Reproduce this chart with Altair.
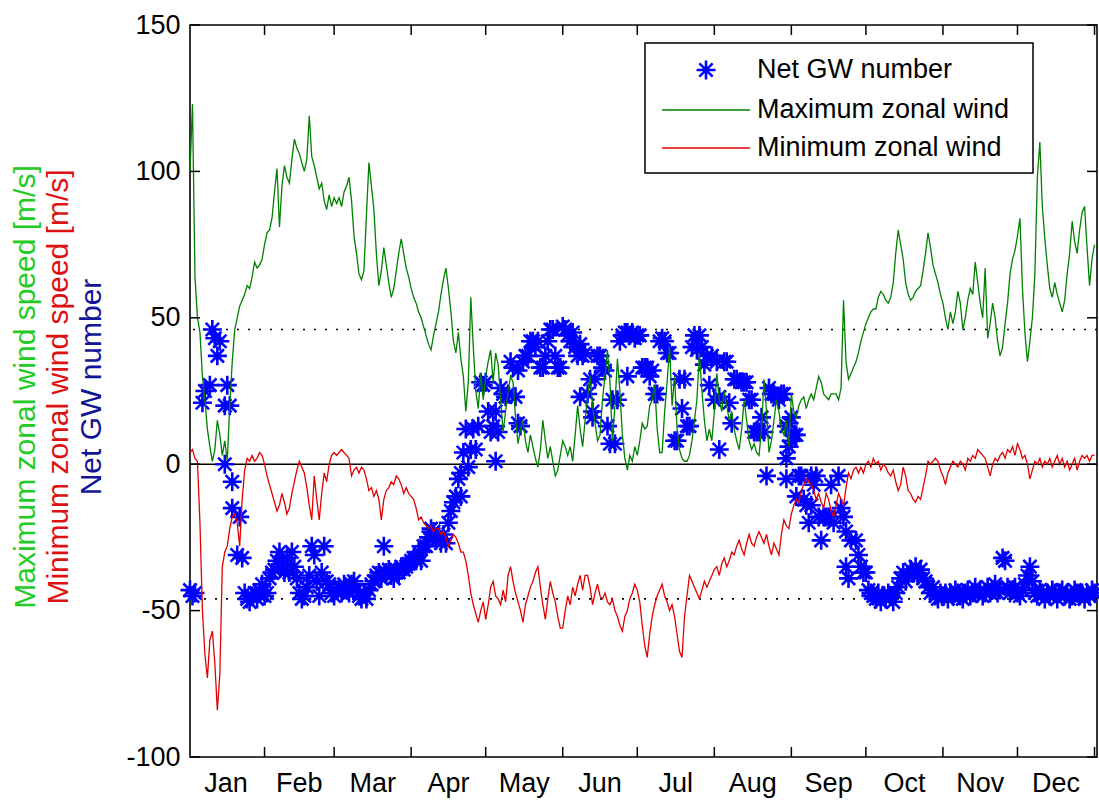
import altair as alt
import pandas as pd

# ---------------------------------------------------------------- data
# daily maximum zonal wind [m/s]; one value per day, record starts on 2 Jan
max_wind = [
    100, 123, 64, 50, 45, 30, 22, 12, 6, 1,
    5, 15, 10, 3, 8, 1, 20, 35, 46, 50,
    54, 56, 58, 61, 60, 64, 69, 67, 68, 70,
    75, 79, 80, 84, 93, 101, 81, 95, 102, 98,
    96, 104, 111, 108, 106, 103, 100, 104, 119, 105,
    102, 98, 94, 96, 90, 87, 92, 88, 91, 89,
    91, 88, 93, 95, 98, 90, 78, 72, 65, 63,
    66, 85, 103, 95, 87, 72, 61, 66, 74, 68,
    62, 57, 60, 66, 72, 77, 72, 67, 64, 60,
    57, 55, 52, 50, 47, 44, 41, 39, 44, 48,
    52, 58, 63, 67, 60, 52, 42, 38, 45, 36,
    30, 18, 28, 57, 40, 25, 19, 31, 22, 30,
    35, 39, 28, 38, 34, 22, 11, 18, 25, 30,
    28, 16, 7, 12, 15, 8, 4, 10, 6, 2,
    -1, 5, 15, 8, 2, 6, 1, -4, -2, 3,
    8, 6, 3, 6, 1, 10, 20, 12, 6, 15,
    23, 30, 20, 14, 8, 10, 22, 30, 39, 28,
    8, 20, 36, 25, 10, 2, -2, 3, 1, 6,
    3, 8, 14, 12, 13, 20, 22, 27, 12, 4,
    4, 18, 28, 40, 20, 30, 12, 5, 2, 1,
    1, 3, 8, 15, 22, 38, 25, 15, 8, 12,
    8, 18, 31, 22, 18, 25, 20, 15, 18, 12,
    8, 5, 12, 22, 15, 8, 5, 7, 4, 3,
    12, 29, 18, 4, 8, 15, 22, 18, 12, 10,
    15, 6, 24, 18, 16, 20, 22, 23, 19, 22,
    24, 22, 26, 30, 28, 24, 23, 22, 24, 24,
    24, 22, 26, 56, 35, 29, 31, 33, 35, 38,
    42, 45, 48, 50, 52, 53, 53, 57, 59, 58,
    56, 55, 57, 62, 72, 80, 75, 70, 62, 58,
    56, 57, 59, 60, 61, 66, 72, 79, 74, 68,
    65, 62, 58, 55, 50, 46, 52, 48, 52, 59,
    55, 46, 50, 56, 60, 58, 69, 62, 55, 50,
    67, 43, 48, 55, 50, 42, 37, 40, 48, 55,
    65, 70, 73, 78, 84, 60, 45, 35, 42, 50,
    65, 98, 110, 88, 77, 68, 60, 57, 62, 58,
    55, 52, 56, 65, 72, 83, 76, 72, 80, 86,
    88, 74, 61, 70, 75,
]

# daily minimum zonal wind [m/s], same days
min_wind = [
    4, 5, 2, 1, -20, -50, -65, -73, -60, -57,
    -68, -84, -72, -35, -30, -28, -22, -18, -17, -20,
    -28, -12, -2, 2, 1, 3, 1, 2, 4, 3,
    0, -4, -7, -10, -13, -16, -14, -10, -13, -17,
    -15, -10, -6, -2, 1, -1, -3, -8, -14, -19,
    -4, -12, -19, -10, -3, -6, 0, 3, 4, 3,
    4, 5, 4, 3, 2, -4, -2, -1, -3, -1,
    -2, -5, -9, -8, -11, -9, -12, -19, -12, -9,
    -8, -6, -7, -4, -5, -7, -10, -8, -10, -11,
    -12, -15, -19, -18, -20, -21, -22, -21, -23, -22,
    -22, -24, -23, -25, -28, -26, -24, -25, -27, -30,
    -30, -33, -38, -44, -48, -51, -54, -50, -47, -53,
    -48, -42, -40, -45, -46, -48, -43, -47, -38, -35,
    -40, -44, -47, -50, -54, -48, -45, -42, -40, -37,
    -35, -42, -48, -53, -46, -40, -44, -47, -52, -56,
    -56, -50, -45, -48, -42, -45, -41, -38, -43, -38,
    -38, -42, -48, -44, -41, -45, -46, -44, -47, -48,
    -46, -50, -52, -55, -57, -52, -50, -46, -44, -41,
    -43, -47, -55, -62, -66, -58, -52, -48, -45, -43,
    -41, -45, -47, -50, -48, -52, -58, -64, -66, -52,
    -45, -38, -40, -42, -44, -46, -43, -40, -42, -40,
    -38, -36, -35, -38, -34, -32, -35, -33, -30, -31,
    -28, -26, -29, -31, -27, -24, -27, -28, -25, -23,
    -25, -27, -24, -28, -31, -27, -29, -31, -24, -19,
    -21, -22, -17, -14, -12, -13, -9, -7, -5, -6,
    -7, -9, -12, -10, -13, -15, -10, -12, -16, -18,
    -14, -10, -12, -14, -8, -3, -5, -2, -1, -3,
    -1, -3, 0, 1, -1, 2, 0, 1, -2, 0,
    -1, -3, -4, -2, -6, -9, -7, -1, -4, -9,
    -10, -12, -13, -11, -12, -8, -4, 1, 0, 1,
    2, 1, -2, -4, -7, -3, -1, 1, 0, -1,
    1, 0, -2, 2, 1, 3, 2, 5, 4, 3,
    2, -1, -4, 0, 2, 1, 3, 4, 2, 5,
    4, 6, 3, 7, 5, 2, 3, 0, -5, -2,
    1, 0, 2, -1, 1, 0, 2, -1, 1, 3,
    0, 2, -1, 1, -2, 0, 2, -2, 1, 3,
    2, 3, 1, 3, 3,
]

# net gravity-wave number: record day (1 = first day of the record) and value
gw_day = [
    1, 2, 3, 6, 7, 9, 10, 11, 12, 13, 15, 15, 16, 17, 18, 18, 20, 21, 22,
    23, 24, 25, 26, 27, 28, 29, 30,
    31, 32, 33, 34, 35, 36, 37, 38, 39, 40, 41, 42, 43, 44, 45, 46, 47, 48,
    49, 50, 51, 52, 53, 54, 55, 56, 57, 58, 59, 60, 61, 62, 63, 64, 65, 66,
    67, 68, 69, 70, 71, 72, 73, 74, 75, 76, 77, 78, 79, 80, 81, 82, 83, 84,
    85, 86, 87, 88, 89, 90, 91, 92, 93, 94, 95, 96, 97, 98, 99, 100, 101,
    102, 103, 104, 105, 106, 107, 108,
    109, 110, 110, 111, 112, 113, 114, 115, 116, 117, 118, 119, 120, 121,
    122, 123, 124, 124, 125, 126, 127, 128, 129, 130, 131, 132, 133, 133,
    134, 135, 136, 137, 138, 139, 140, 141, 142, 143, 144, 145, 146, 147,
    148, 149, 150, 151, 152, 153, 154, 155, 156, 157, 158, 158, 159, 160,
    161, 162, 163, 163, 164, 165, 166, 167, 168, 169, 170, 171, 172, 173,
    174, 175, 176, 177, 177, 178, 179, 180, 181, 182, 183, 184, 185, 186,
    187, 188, 189, 190, 191, 192, 193, 194, 196, 197, 198, 199, 200, 201,
    202, 203, 204, 205, 206, 207, 208, 209, 210, 211, 212, 213, 214, 214,
    216, 217, 218, 219, 220, 221, 223, 224, 225, 226, 227, 228, 229, 230,
    231, 232, 233, 234, 235, 236, 238, 239, 240, 241, 241, 241, 242, 242,
    243, 243, 244, 245, 245, 246, 247, 248, 249, 250, 251, 251, 252, 253,
    254, 255, 256, 257, 258, 259, 260, 262, 263, 264, 265, 265, 266, 267,
    269, 270, 271, 272, 273, 274, 275,
    276, 277, 278, 279, 280, 281, 282, 283, 284, 285, 286, 287, 288, 289,
    290, 291, 292, 293, 294, 295, 296, 297, 298, 299, 300, 301, 302, 303,
    304, 305, 306, 307, 308, 309, 310, 311, 312, 313, 314, 315, 316, 317,
    318, 319, 320, 321, 322, 323, 324, 325, 326, 327, 328, 329, 330, 331,
    332, 333, 334, 335, 336, 337, 338, 339, 340, 341, 342, 343, 344, 345,
    346, 347, 348, 349, 350, 351, 352, 353, 354, 355, 356, 357, 358, 359,
    360, 361, 362, 363, 364, 365,
]
gw_val = [
    -43, -45, -44, 21, 25, 27, 46, 43, 37, 42, 20, 0, 27, 20, -6, -15, -31, -18, -32,
    -44, -46, -47, -45, -44, -46, -43, -41,
    -45, -44, -39, -37, -36, -33, -30, -34, -37, -32, -37, -30, -35, -39, -44, -46, -45, -42,
    -38, -28, -31, -40, -45, -37, -28, -40, -41, -44, -45, -43, -42, -44, -41, -43, -44, -41,
    -40, -43, -45, -46, -44, -46, -43, -41, -40, -38, -37, -39, -28, -37, -36, -38, -39, -36,
    -37, -35, -36, -35, -34, -33, -32, -33, -30, -33, -28, -28, -25, -22, -23, -26, -25,
    -27, -24, -27, -20, -16, -13, -11,
    -5, -3, -11, 4, 12, -1, 5, 12, 5, 13, 28, 27, 28, 18,
    11, 13, 1, 18, 11, 26, 24, 23, 24, 35, 33, 23, 14, 32,
    13, 35, 37, 37, 42, 42, 40, 42, 33, 33, 37, 42, 46, 46,
    37, 33, 33, 47, 46, 44, 42, 45, 40, 37, 41, 23, 37, 38,
    24, 29, 18, 16, 29, 37, 37, 33, 32, 13, 7, 22, 7, 22,
    42, 44, 45, 30, 45, 44, 45, 43, 44, 44, 33, 33, 33, 30,
    32, 24, 24, 42, 43, 42, 38, 38, 8, 8, 29, 19, 29, 13,
    13, 40, 44, 39, 44, 40, 34, 37, 27, 37, 22, 35, 23, 5,
    35, 35, 21, 14, 29, 29, 28, 28, 28, 22, 22, 11, 11, 11,
    16, 11, -4, 26, 24, 24, 22, 24, 24, 13, 2, -5, 6, 14,
    16, 8, 10, 10, -11, -4, -4, -12, -14, -20, -14, -4, -7, -4,
    -18, -26, -18, -18, -18, -7, -20, -4, -15, -18, -23, -35, -39, -26,
    -26, -31, -35, -37, -37, -43, -44,
    -45, -46, -44, -47, -45, -46, -44, -45, -47, -44, -42, -39, -37, -40,
    -38, -36, -37, -35, -38, -36, -39, -40, -42, -44, -42, -45, -46, -44,
    -45, -44, -46, -44, -45, -43, -44, -45, -46, -44, -43, -45, -44, -42,
    -44, -43, -45, -44, -42, -44, -43, -41, -44, -43, -32, -33, -42, -44,
    -43, -42, -44, -45, -43, -41, -38, -35, -40, -44, -45, -43, -44, -46,
    -44, -45, -43, -44, -46, -44, -43, -45, -44, -46, -45, -43, -44, -45,
    -44, -46, -44, -45, -43, -44,
]

months = ["Jan", "Feb", "Mar", "Apr", "May", "Jun",
          "Jul", "Aug", "Sep", "Oct", "Nov", "Dec"]
month_starts = [1, 32, 60, 91, 121, 152, 182, 213, 244, 274, 305, 335, 366]
y_ticks = [-100, -50, 0, 50, 100, 150]
ref_levels = [46, -46]
FIRST_DAY = 2  # day of year of the first record

# ---------------------------------------------------------------- frames
n_days = len(max_wind)
DOMAIN = [FIRST_DAY, FIRST_DAY + n_days]
doy = [FIRST_DAY + i for i in range(n_days)]
wind_df = pd.DataFrame({"day": doy, "max": max_wind, "min": min_wind})
gw_df = pd.DataFrame({"day": [FIRST_DAY - 1 + d for d in gw_day], "gw": gw_val})
label_df = pd.DataFrame({
    "mid": [(a + b) / 2 for a, b in zip(month_starts[:-1], month_starts[1:])],
    "month": months,
})
mtick_df = pd.DataFrame({"day": [d for d in month_starts
                                 if DOMAIN[0] <= d <= DOMAIN[1]]})
ytick_df = pd.DataFrame({"v": y_ticks})
ref_df = pd.DataFrame({"v": ref_levels})
one = pd.DataFrame({"k": [0]})

W, H = 907, 732
FONT = "Liberation Sans"
FS = 27
TITLE_FS = 30
GREEN_LINE = "#008000"
RED_LINE = "#e00000"
BLUE = "#0000ff"
STAR = ("M-1,0L1,0M0,-1L0,1M-0.7,-0.7L0.7,0.7M-0.7,0.7L0.7,-0.7")
STAR_SIZE = 360
STAR_W = 2.6

xs = alt.Scale(domain=DOMAIN, nice=False, zero=False)
ys = alt.Scale(domain=[-100, 150], nice=False, zero=False)
y_axis = alt.Axis(values=y_ticks, ticks=False, domain=False, grid=False,
                  labelExpr="'' + datum.value",
                  labelFont=FONT, labelFontSize=FS, labelColor="black",
                  labelPadding=10, title=None)


def X(field):
    return alt.X(field, scale=xs, axis=None)


def Y(field):
    return alt.Y(field, scale=ys, axis=y_axis)


# reference levels and zero line
dotted = alt.Chart(ref_df).mark_rule(color="black", strokeWidth=1.6,
                                     strokeDash=[2, 9]).encode(y=Y("v:Q"))
zero = alt.Chart(one).mark_rule(color="black", strokeWidth=1.6).encode(
    y=alt.datum(0, scale=ys))

# inward tick marks on all four sides
ticks_bottom = alt.Chart(mtick_df).mark_rule(color="black", strokeWidth=1.5).encode(
    x=X("day:Q"), y=alt.value(H - 10), y2=alt.value(H))
ticks_top = alt.Chart(mtick_df).mark_rule(color="black", strokeWidth=1.5).encode(
    x=X("day:Q"), y=alt.value(0), y2=alt.value(10))
ticks_left = alt.Chart(ytick_df).mark_rule(color="black", strokeWidth=1.5).encode(
    y=Y("v:Q"), x=alt.value(0), x2=alt.value(10))
ticks_right = alt.Chart(ytick_df).mark_rule(color="black", strokeWidth=1.5).encode(
    y=Y("v:Q"), x=alt.value(W - 10), x2=alt.value(W))

month_labels = alt.Chart(label_df).mark_text(
    font=FONT, fontSize=FS, color="black", baseline="middle", align="center"
).encode(x=X("mid:Q"), y=alt.value(H + 27), text="month:N")

stars = alt.Chart(gw_df).mark_point(
    shape=STAR, filled=False, size=STAR_SIZE, strokeWidth=STAR_W, color=BLUE, opacity=1
).encode(x=X("day:Q"), y=Y("gw:Q"))

max_line = alt.Chart(wind_df).mark_line(color=GREEN_LINE, strokeWidth=1.3).encode(
    x=X("day:Q"), y=Y("max:Q"))
min_line = alt.Chart(wind_df).mark_line(color=RED_LINE, strokeWidth=1.3).encode(
    x=X("day:Q"), y=Y("min:Q"))

# legend box
LX0, LX1, LY0, LY1 = 455, 843, 18, 148
leg_box = alt.Chart(one).mark_rect(fill="white", stroke="black", strokeWidth=1.5).encode(
    x=alt.value(LX0), x2=alt.value(LX1), y=alt.value(LY0), y2=alt.value(LY1))
leg_star = alt.Chart(one).mark_point(
    shape=STAR, filled=False, size=STAR_SIZE, strokeWidth=STAR_W, color=BLUE, opacity=1
).encode(x=alt.value(516), y=alt.value(45))
leg_green = alt.Chart(one).mark_rule(color=GREEN_LINE, strokeWidth=1.5).encode(
    x=alt.value(472), x2=alt.value(560), y=alt.value(85))
leg_red = alt.Chart(one).mark_rule(color=RED_LINE, strokeWidth=1.5).encode(
    x=alt.value(472), x2=alt.value(560), y=alt.value(123))


def leg_text(txt, ypos):
    return alt.Chart(one).mark_text(
        font=FONT, fontSize=FS, color="black", align="left", baseline="middle"
    ).encode(x=alt.value(567), y=alt.value(ypos), text=alt.value(txt))


# stacked, colour-coded y titles
def y_title(txt, xpos, colour):
    return alt.Chart(one).mark_text(
        font=FONT, fontSize=TITLE_FS, color=colour, angle=270,
        align="center", baseline="middle"
    ).encode(x=alt.value(xpos), y=alt.value(362), text=alt.value(txt))


chart = alt.layer(
    dotted, zero, stars, max_line, min_line,
    ticks_bottom, ticks_top, ticks_left, ticks_right, month_labels,
    leg_box, leg_star, leg_green, leg_red,
    leg_text("Net GW number", 45),
    leg_text("Maximum zonal wind", 85),
    leg_text("Minimum zonal wind", 123),
    y_title("Maximum zonal wind speed [m/s]", -164, "#22cc22"),
    y_title("Minimum zonal wind speed [m/s]", -131, "#dd1111"),
    y_title("Net GW number", -98, "#141496"),
).properties(
    width=W, height=H,
    autosize=alt.AutoSizeParams(type="none"),
    padding={"left": 190, "top": 25, "right": 2, "bottom": 46},
    background="white",
).configure_view(stroke="black", strokeWidth=1.6)

chart.save("out.html", embed_options={"renderer": "svg", "actions": False})
